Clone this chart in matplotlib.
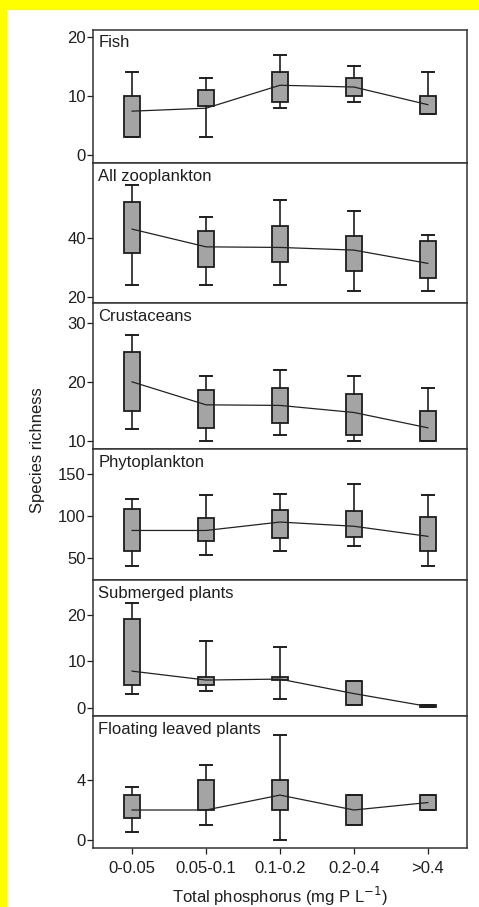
import numpy as np
import matplotlib
matplotlib.use("Agg")
import matplotlib.pyplot as plt
from matplotlib.patches import Rectangle

plt.rcParams["font.family"] = ["Liberation Sans", "DejaVu Sans"]

# phosphorus classes (mg P / L)
classes = ["0-0.05", "0.05-0.1", "0.1-0.2", "0.2-0.4", ">0.4"]

# species richness per class: whisker low, box low, median, box high, whisker high
fish_lo = [3, 3, 8, 9, 7]
fish_q1 = [3, 8.2, 9, 10, 7]
fish_med = [7.4, 7.9, 11.8, 11.5, 8.5]
fish_q3 = [10, 11, 14, 13, 10]
fish_hi = [14, 13, 17, 15, 14]

zoo_lo = [24, 24, 24, 22, 22]
zoo_q1 = [35, 30.2, 31.7, 28.9, 26.3]
zoo_med = [43, 37, 36.8, 35.9, 31.4]
zoo_q3 = [52.2, 42.5, 44, 40.8, 39]
zoo_hi = [58, 47, 52.7, 49, 41]

crust_lo = [12, 10, 11, 10, 10]
crust_q1 = [15, 12.2, 13, 11, 10]
crust_med = [20, 16.1, 16, 14.8, 12.2]
crust_q3 = [25, 18.6, 19, 18, 15]
crust_hi = [28, 21, 22, 21, 19]

phyto_lo = [41, 54, 58, 64, 41]
phyto_q1 = [58, 70, 74, 75, 58]
phyto_med = [83, 83, 93, 88, 76]
phyto_q3 = [108, 98, 107, 106, 99]
phyto_hi = [120, 125, 126, 138, 125]

sub_lo = [3, 3.6, 1.9, 0.7, 0.15]
sub_q1 = [4.9, 5, 6, 0.7, 0.15]
sub_med = [7.9, 6, 6.2, 3.1, 0.35]
sub_q3 = [19.1, 6.6, 6.6, 5.9, 0.6]
sub_hi = [22.5, 14.3, 13, 5.9, 0.6]

float_lo = [0.55, 1, 0, 1, 2]
float_q1 = [1.45, 2, 2, 1, 2]
float_med = [2, 2, 3, 2, 2.5]
float_q3 = [3, 4, 4, 3, 3]
float_hi = [3.55, 5, 7, 3, 3]

panels = [
    ("Fish", fish_lo, fish_q1, fish_med, fish_q3, fish_hi, (-1.4, 21.2), [0, 10, 20]),
    ("All zooplankton", zoo_lo, zoo_q1, zoo_med, zoo_q3, zoo_hi, (18, 65.4), [20, 40]),
    ("Crustaceans", crust_lo, crust_q1, crust_med, crust_q3, crust_hi, (8.6, 33.4), [10, 20, 30]),
    ("Phytoplankton", phyto_lo, phyto_q1, phyto_med, phyto_q3, phyto_hi, (24, 180), [50, 100, 150]),
    ("Submerged plants", sub_lo, sub_q1, sub_med, sub_q3, sub_hi, (-1.7, 27.4), [0, 10, 20]),
    ("Floating leaved plants", float_lo, float_q1, float_med, float_q3, float_hi, (-0.55, 8.3), [0, 4]),
]

ink = "#1e1e1e"

fig = plt.figure(figsize=(4.79, 9.07), dpi=100, facecolor="white")
gs = fig.add_gridspec(6, 1, left=0.194, right=0.975, top=0.967, bottom=0.065,
                      hspace=0, height_ratios=[133, 140, 146, 131, 136, 132])

x = np.arange(len(classes))
for i, (name, lo, q1, med, q3, hi, ylim, ticks) in enumerate(panels):
    ax = fig.add_subplot(gs[i])
    stats = []
    for k in range(len(classes)):
        stats.append({"whislo": lo[k], "q1": q1[k], "med": med[k],
                      "q3": q3[k], "whishi": hi[k]})
    ax.bxp(stats, positions=x, widths=0.21, showfliers=False, patch_artist=True,
           boxprops=dict(facecolor="#a4a4a4", edgecolor=ink, linewidth=1.3),
           whiskerprops=dict(color=ink, linewidth=1.2),
           capprops=dict(color=ink, linewidth=1.4),
           medianprops=dict(linewidth=0), capwidths=0.16)
    ax.plot(x, med, color="#222222", linewidth=0.9, zorder=5)

    ax.set_xlim(-0.53, 4.53)
    ax.set_ylim(*ylim)
    ax.set_yticks(ticks)
    ax.tick_params(axis="y", direction="out", length=4, width=0.9, labelsize=12,
                   pad=1, colors=ink)
    for s in ax.spines.values():
        s.set_linewidth(1.1)
        s.set_color("#333333")
    ax.annotate(name, xy=(0, 1), xycoords="axes fraction", xytext=(4, -4),
                textcoords="offset points", ha="left", va="top",
                fontsize=12, color=ink)
    if i < len(panels) - 1:
        ax.set_xticks([])
    else:
        ax.set_xticks(x)
        ax.set_xticklabels(classes)
        ax.tick_params(axis="x", direction="out", length=4, width=0.9,
                       labelsize=12, pad=5, colors=ink)

fig.text(0.078, 0.504, "Species richness", rotation=90, ha="center", va="center",
         fontsize=12, color=ink)
fig.text(0.585, 0.012, "Total phosphorus (mg P L$^{-1}$)", ha="center", va="center",
         fontsize=12, color=ink)

# yellow frame strips along the top and left edges
fig.patches.append(Rectangle((0, 1 - 10 / 907), 1, 10 / 907, transform=fig.transFigure,
                             facecolor="#ffff00", edgecolor="none", zorder=-1))
fig.patches.append(Rectangle((0, 0), 7 / 479, 1, transform=fig.transFigure,
                             facecolor="#ffff00", edgecolor="none", zorder=-1))

fig.savefig("out.png", dpi=100, facecolor="white")
